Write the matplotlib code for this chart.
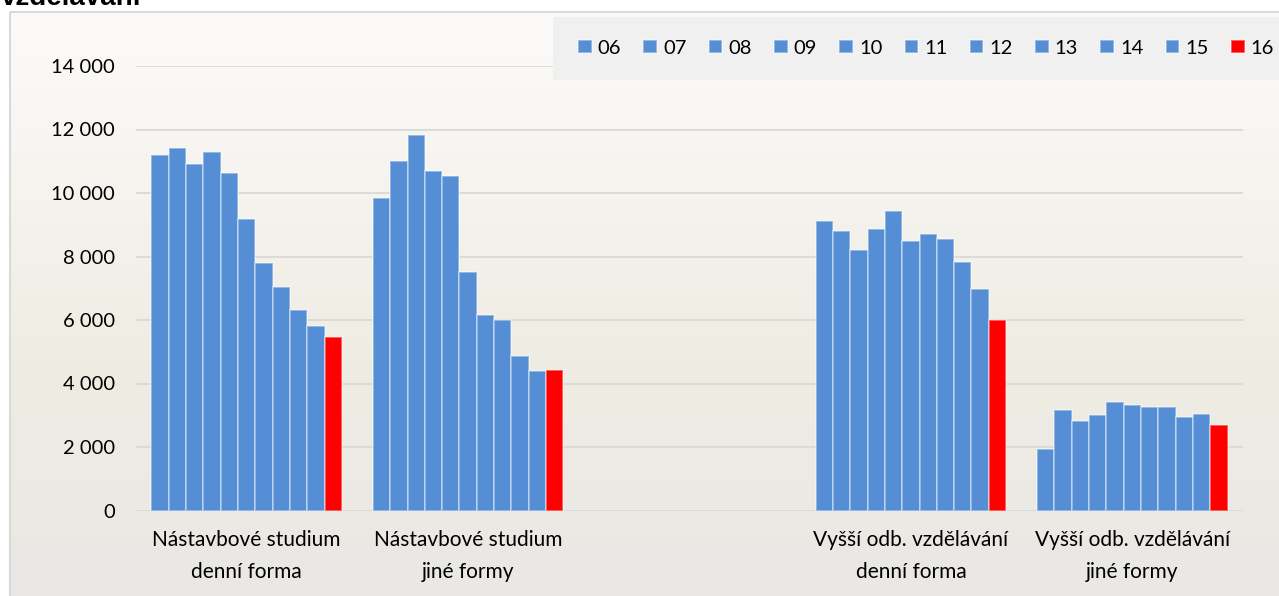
import numpy as np
import matplotlib

matplotlib.use("Agg")
import matplotlib.pyplot as plt
from matplotlib.patches import Rectangle
from matplotlib.colors import LinearSegmentedColormap
from matplotlib.ticker import FuncFormatter

# data
years = ["06", "07", "08", "09", "10", "11", "12", "13", "14", "15", "16"]
categories = [
    "Nástavbové studium\ndenní forma",
    "Nástavbové studium\njiné formy",
    "",
    "Vyšší odb. vzdělávání\ndenní forma",
    "Vyšší odb. vzdělávání\njiné formy",
]
nast_denni = [11190, 11410, 10925, 11290, 10620, 9190, 7800, 7045, 6300, 5805, 5450]
nast_jine = [9855, 11010, 11840, 10705, 10525, 7520, 6165, 6015, 4870, 4405, 4430]
vos_denni = [9115, 8790, 8200, 8875, 9420, 8475, 8720, 8560, 7815, 6970, 6005]
vos_jine = [1950, 3180, 2815, 3010, 3420, 3315, 3255, 3255, 2950, 3035, 2695]
title_tail = "vzdělávání"

BLUE = "#558ED5"
RED = "#FF0000"
FONT = "Lato"

groups = [nast_denni, nast_jine, None, vos_denni, vos_jine]
W, H = 1279, 596
fig = plt.figure(figsize=(W / 100, H / 100), dpi=100)
fig.patch.set_facecolor("white")

# background with Excel-like gradient and frame
bg = fig.add_axes([0, 0, 1, 1], zorder=-10)
bg.axis("off")
bg.set_xlim(0, W)
bg.set_ylim(H, 0)
cmap = LinearSegmentedColormap.from_list(
    "bg", [(0, "#fcfbfa"), (0.6, "#efece3"), (1, "#eae8e5")]
)
grad = np.linspace(0, 1, 256).reshape(-1, 1)
bg.imshow(grad, cmap=cmap, extent=(10, W, H, 12), aspect="auto")
bg.add_patch(Rectangle((10, 12), W, H, fill=False, ec="#d9d9d9", lw=1.5))

ax = fig.add_axes([136 / W, 1 - 510.5 / H, (1243 - 136) / W, (510.5 - 66) / H])
ax.set_facecolor("none")

n = len(years)
w = 0.86 / n
x = np.arange(len(categories))
containers = []
for i, yr in enumerate(years):
    xs = [x[k] + (i - (n - 1) / 2) * w for k, g in enumerate(groups) if g is not None]
    hs = [g[i] for g in groups if g is not None]
    c = ax.bar(xs, hs, width=w, color=RED if yr == "16" else BLUE,
               edgecolor=(1, 1, 1, 0.45), linewidth=1.2, zorder=3, label=yr)
    containers.append(c)

ax.set_xlim(-0.5, len(categories) - 0.5)
ax.set_ylim(0, 14000)
ax.set_yticks(np.arange(0, 14001, 2000))
ax.yaxis.set_major_formatter(FuncFormatter(lambda v, _: f"{int(v):,}".replace(",", " ")))
ax.set_xticks(x)
ax.set_xticklabels(categories, linespacing=1.75)
ax.tick_params(axis="y", length=0, labelsize=14.5, pad=15)
ax.tick_params(axis="x", length=0, labelsize=15, pad=14)
for lab in ax.get_xticklabels() + ax.get_yticklabels():
    lab.set_fontfamily(FONT)
ax.grid(axis="y", color="#d9d9d9", linewidth=1.3, zorder=0)
for s in ax.spines.values():
    s.set_visible(False)

# legend box
fig.patches.append(Rectangle((553 / W, 1 - 80 / H), 1, 63 / H, transform=fig.transFigure,
                             facecolor="#f0f0f0", edgecolor="none", zorder=2))
fig.legend(handles=containers, labels=years, ncol=n, loc="center left",
           bbox_to_anchor=(568 / W, 1 - 48 / H), frameon=False, borderpad=0,
           handlelength=0.68, handleheight=0.68, handletextpad=0.3,
           columnspacing=1.1, prop={"family": FONT, "size": 14.5})

fig.text(1 / W, 1 - 5 / H, title_tail, fontsize=20, fontweight="bold",
         family="Liberation Sans", va="baseline", ha="left")

fig.savefig("out.png", dpi=100)
